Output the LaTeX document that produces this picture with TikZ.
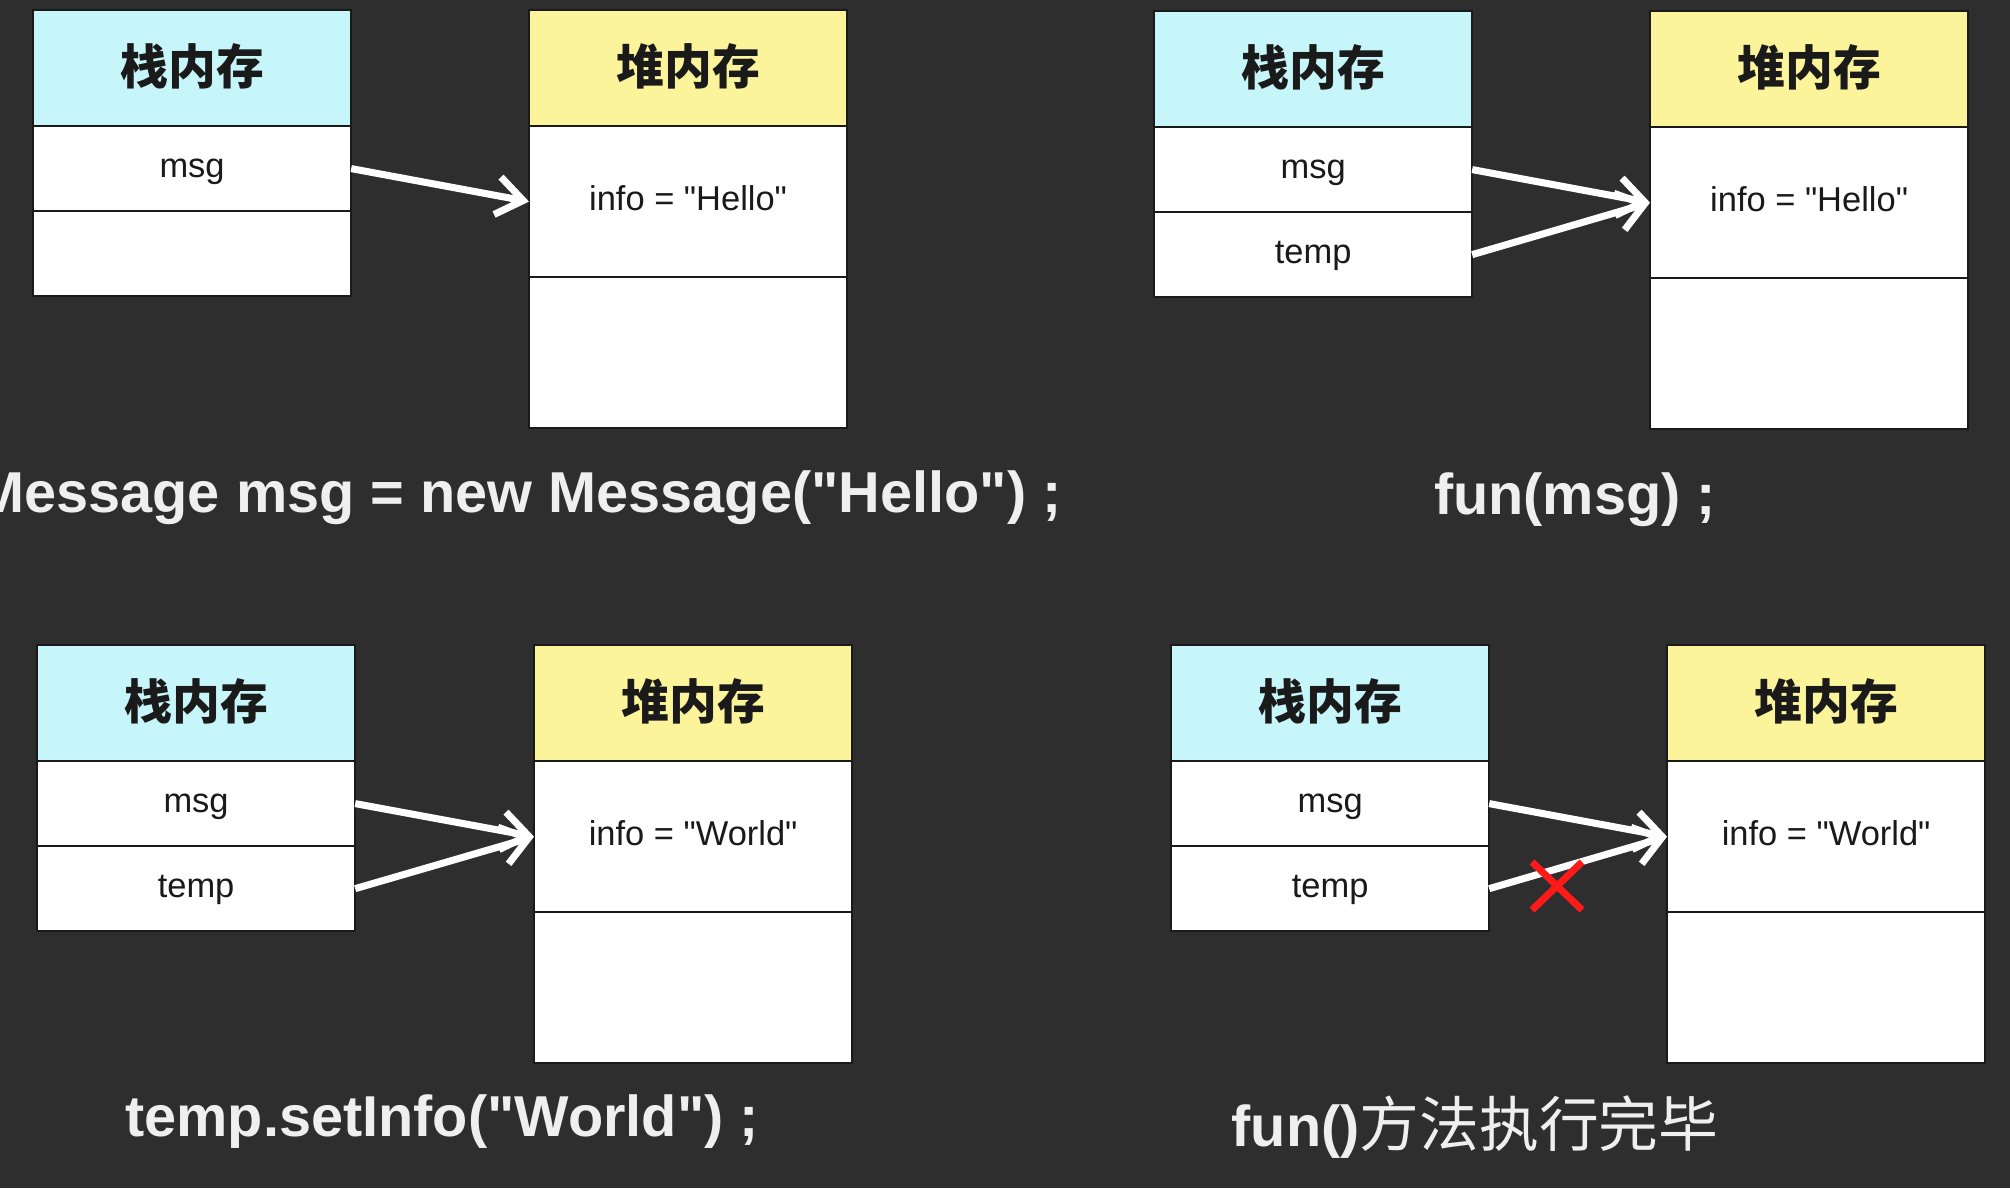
\documentclass[tikz,border=0pt]{standalone}
\usepackage{fontspec}
\setmainfont{Liberation Sans}[Ligatures=TeXOff]
\newfontfamily\cjk{Noto Sans CJK SC}
\usetikzlibrary{arrows.meta,positioning}
\definecolor{board}{HTML}{2E2E2E}
\definecolor{stackcyan}{HTML}{C6F5FA}
\definecolor{heapyellow}{HTML}{FBF49A}
\definecolor{chalk}{HTML}{EFEFEF}
\definecolor{ink}{HTML}{1A1A1A}
\definecolor{cross}{HTML}{FF1A1A}

\tikzset{
  cell/.style={draw=ink,line width=0.6pt,fill=white,minimum width=3.18cm,
    inner sep=0pt,outer sep=0pt,text=ink,text height=0.72em,text depth=0.2em,
    font=\fontsize{9.8}{11}\selectfont},
  stackhead/.style={cell,fill=stackcyan,minimum height=1.16cm,
    text height=0.94em,text depth=0em,
    font=\cjk\bfseries\fontsize{13.6}{15}\selectfont},
  heaphead/.style={stackhead,fill=heapyellow},
  slot/.style={cell,minimum height=0.85cm},
  field/.style={cell,minimum height=1.51cm},
  ref/.style={draw=white,line width=2pt,-{Straight Barb[length=2.6mm,width=3.8mm]}},
  caption/.style={text=chalk,font=\bfseries\fontsize{16.4}{19}\selectfont},
}

\begin{document}
\begin{tikzpicture}[x=0.01cm,y=-0.01cm]
  \useasboundingbox (0,0) rectangle (2010,1188);
  \fill[board] (0,0) rectangle (2010,1188);

  % new Message
  \node[stackhead,anchor=north west] (s1h) at (33,10) {栈内存};
  \node[slot,below=0pt of s1h] (s1m) {msg};
  \node[slot,below=0pt of s1m] (s1e) {};
  \node[heaphead,anchor=north west] (h1h) at (529,10) {堆内存};
  \node[field,below=0pt of h1h] (h1i) {info = "Hello"};
  \node[field,below=0pt of h1i] (h1e) {};
  \draw[ref] (s1m.east) -- (h1i.west);
  \node[caption,anchor=base east] (c1) at (1074,512) {Message msg = new Message("Hello") ;};

  % fun(msg)
  \node[stackhead,anchor=north west] (s2h) at (1154,11) {栈内存};
  \node[slot,below=0pt of s2h] (s2m) {msg};
  \node[slot,below=0pt of s2m] (s2t) {temp};
  \node[heaphead,anchor=north west] (h2h) at (1650,11) {堆内存};
  \node[field,below=0pt of h2h] (h2i) {info = "Hello"};
  \node[field,below=0pt of h2i] (h2e) {};
  \draw[ref] (s2m.east) -- (h2i.west);
  \draw[ref] (s2t.east) -- (h2i.west);
  \node[caption,anchor=base] (c2) at (1575,514) {fun(msg) ;};

  % setInfo
  \node[stackhead,anchor=north west] (s3h) at (37,645) {栈内存};
  \node[slot,below=0pt of s3h] (s3m) {msg};
  \node[slot,below=0pt of s3m] (s3t) {temp};
  \node[heaphead,anchor=north west] (h3h) at (534,645) {堆内存};
  \node[field,below=0pt of h3h] (h3i) {info = "World"};
  \node[field,below=0pt of h3i] (h3e) {};
  \draw[ref] (s3m.east) -- (h3i.west);
  \draw[ref] (s3t.east) -- (h3i.west);
  \node[caption,anchor=base] (c3) at (442,1136) {temp.setInfo("World") ;};

  % fun() done
  \node[stackhead,anchor=north west] (s4h) at (1171,645) {栈内存};
  \node[slot,below=0pt of s4h] (s4m) {msg};
  \node[slot,below=0pt of s4m] (s4t) {temp};
  \node[heaphead,anchor=north west] (h4h) at (1667,645) {堆内存};
  \node[field,below=0pt of h4h] (h4i) {info = "World"};
  \node[field,below=0pt of h4i] (h4e) {};
  \draw[ref] (s4m.east) -- (h4i.west);
  \draw[ref] (s4t.east) -- (h4i.west);
  \draw[cross,line width=2pt] (1532,862) -- (1582,910) (1582,862) -- (1532,910);
  \node[caption,anchor=base] (c4) at (1475,1146) {fun(){\cjk\mdseries\fontsize{17}{19}\selectfont 方法执行完毕}};
\end{tikzpicture}
\end{document}
